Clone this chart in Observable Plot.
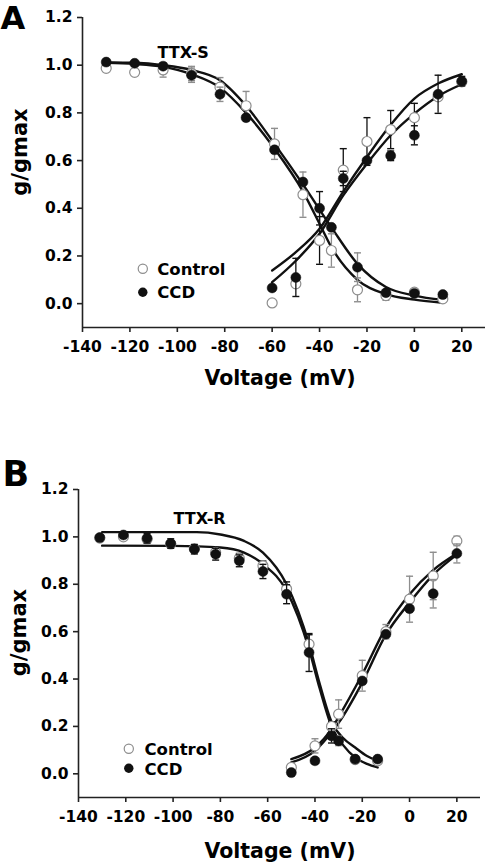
<!DOCTYPE html>
<html><head><meta charset="utf-8">
<script src="https://cdn.jsdelivr.net/npm/d3@7"></script>
<script src="https://cdn.jsdelivr.net/npm/@observablehq/plot@0.6"></script>
<style>
body{margin:0;background:#fff;}
#wrap{position:relative;width:486px;height:865px;overflow:hidden;}
#wrap svg{position:absolute;left:0;}
</style></head><body><div id="wrap"></div>
<script>
const FONT = "DejaVu Sans";
const xTicks = [-140, -120, -100, -80, -60, -40, -20, 0, 20];
const yTicks = [0, 0.2, 0.4, 0.6, 0.8, 1.0, 1.2];
const xLabel = "Voltage (mV)";
const yLabel = "g/gmax";
const legendLabels = ["Control", "CCD"];

// ---------- Panel A (TTX-S) ----------
const inactV_A      = [-130, -118, -106, -94, -82, -71, -59, -47, -35, -24, -12, 0, 12];
const inactCtrl_A   = [0.987, 0.97, 0.98, 0.965, 0.908, 0.83, 0.67, 0.457, 0.223, 0.058, 0.034, 0.048, 0.02];
const inactCtrlE_A  = [0.01, 0.01, 0.03, 0.03, 0.04, 0.06, 0.065, 0.095, 0.07, 0.05, 0.02, 0.01, 0.01];
const inactCCD_A    = [1.013, 1.008, 0.996, 0.958, 0.878, 0.78, 0.645, 0.51, 0.32, 0.153, 0.046, 0.043, 0.038];
const inactCCDE_A   = [0, 0, 0, 0.03, 0.03, 0, 0, 0, 0, 0.06, 0, 0, 0];
const actV_A        = [-60, -50, -40, -30, -20, -10, 0, 10, 20];
const actCtrl_A     = [0.003, 0.083, 0.265, 0.56, 0.68, 0.73, 0.78, 0.867, 0.93];
const actCtrlE_A    = [0, 0, 0.1, 0.09, 0.1, 0.08, 0.06, 0, 0];
const actCCD_A      = [0.066, 0.11, 0.40, 0.525, 0.60, 0.62, 0.706, 0.878, 0.933];
const actCCDE_A     = [0, 0.08, 0.07, 0.03, 0, 0.02, 0.04, 0.08, 0.02];
// fitted curves
const fitInact1V_A  = [-130, -118, -106, -94, -82, -71, -59, -47, -35, -24, -12, 0, 12];
const fitInact1_A   = [1.012, 1.01, 1.0, 0.98, 0.937, 0.83, 0.67, 0.50, 0.32, 0.167, 0.07, 0.034, 0.016];
const fitInact2V_A  = [-130, -118, -106, -94, -82, -71, -59, -47, -40, -35, -24, -12, 0, 12];
const fitInact2_A   = [1.01, 1.005, 0.993, 0.962, 0.906, 0.80, 0.65, 0.47, 0.335, 0.237, 0.10, 0.04, 0.017, 0.004];
const fitActV_A     = [-60, -50, -40, -30, -20, -10, 0, 10, 20];
const fitAct1_A     = [0.139, 0.216, 0.314, 0.47, 0.615, 0.75, 0.86, 0.923, 0.962];
const fitAct2_A     = [0.09, 0.18, 0.293, 0.454, 0.587, 0.706, 0.797, 0.87, 0.92];

// ---------- Panel B (TTX-R) ----------
const inactV_B      = [-131, -121, -111, -101, -91, -82, -72, -62, -52, -42.5, -33, -23, -13.5];
const inactCtrl_B   = [0.995, 1.0, 0.99, 0.97, 0.95, 0.935, 0.91, 0.878, 0.78, 0.547, 0.20, 0.06, 0.055];
const inactCtrlE_B  = [0, 0, 0, 0, 0.01, 0.02, 0.02, 0.02, 0.03, 0.04, 0.02, 0, 0];
const inactCCD_B    = [0.997, 1.008, 0.994, 0.972, 0.948, 0.927, 0.899, 0.854, 0.758, 0.512, 0.16, 0.062, 0.062];
const inactCCDE_B   = [0.01, 0.01, 0.02, 0.02, 0.02, 0.025, 0.025, 0.03, 0.04, 0.08, 0.03, 0, 0];
const actV_B        = [-50, -40, -30, -20, -10, 0, 10, 20];
const actCtrl_B     = [0.027, 0.118, 0.252, 0.414, 0.60, 0.737, 0.835, 0.983];
const actCtrlE_B    = [0.01, 0.03, 0.06, 0.065, 0.03, 0.097, 0.1, 0.02];
const actCCD_B      = [0.005, 0.055, 0.139, 0.392, 0.589, 0.697, 0.76, 0.93];
const actCCDE_B     = [0, 0, 0.02, 0, 0, 0, 0.06, 0.04];
const fitInact1V_B  = [-130, -110, -90, -80, -70, -62, -52, -42.5, -38, -33, -28, -23, -18, -13.5];
const fitInact1_B   = [1.02, 1.02, 1.02, 1.01, 0.983, 0.934, 0.80, 0.547, 0.38, 0.22, 0.15, 0.111, 0.075, 0.055];
const fitInact2V_B  = [-130, -100, -80, -70, -62, -52, -42.5, -38, -33, -28, -23, -18, -13.5];
const fitInact2_B   = [0.963, 0.962, 0.955, 0.934, 0.885, 0.772, 0.526, 0.36, 0.20, 0.12, 0.069, 0.042, 0.027];
const fitActV_B     = [-50, -40, -33, -30, -20, -10, 0, 10, 20];
const fitAct1_B     = [0.062, 0.111, 0.19, 0.24, 0.42, 0.617, 0.758, 0.86, 0.93];
const fitAct2_B     = [0.048, 0.097, 0.175, 0.215, 0.385, 0.587, 0.723, 0.84, 0.925];

const GRAY = "#8e8e8e";
const BLACK = "#111";

const zip = (xs, ys, es) => xs.map((x, i) => ({x, y: ys[i], e: es ? es[i] : 0}));
const capSymbol = {draw(ctx, size) { const r = Math.sqrt(size / Math.PI); ctx.moveTo(-r, 0); ctx.lineTo(r, 0); }};

function errMarks(data, color) {
  const d = data.filter(p => p.e > 0);
  const caps = d.flatMap(p => [{x: p.x, y: p.y - p.e}, {x: p.x, y: p.y + p.e}]);
  return [
    Plot.ruleX(d, {x: "x", y1: p => p.y - p.e, y2: p => p.y + p.e, stroke: color, strokeWidth: 1.3}),
    Plot.dot(caps, {x: "x", y: "y", symbol: capSymbol, r: 3.5, stroke: color, fill: "none", strokeWidth: 1.4})
  ];
}

function panel(p) {
  const ctrl = [...zip(p.inactV, p.inactCtrl, p.inactCtrlE), ...zip(p.actV, p.actCtrl, p.actCtrlE)];
  const ccd = [...zip(p.inactV, p.inactCCD, p.inactCCDE), ...zip(p.actV, p.actCCD, p.actCCDE)];
  const fits = [
    zip(p.fi1V, p.fi1), zip(p.fi2V, p.fi2), zip(p.faV, p.fa1), zip(p.faV, p.fa2)
  ];
  const m = p.margins;
  return Plot.plot({
    width: 486, height: p.height,
    marginLeft: m[0], marginRight: m[1], marginTop: m[2], marginBottom: m[3],
    x: {domain: [-140, 30]},
    y: {domain: [-0.1, 1.2]},
    style: {fontFamily: FONT, fontWeight: "bold", color: "#000", background: "transparent", overflow: "visible"},
    marks: [
      Plot.ruleX([-140], {stroke: "#222", strokeWidth: 1.6}),
      Plot.ruleY([-0.1], {stroke: "#222", strokeWidth: 1.6}),
      Plot.axisX({ticks: xTicks, tickSize: 5, tickPadding: 8, fontSize: 15.5, fontWeight: "bold", stroke: "#222", strokeWidth: 1.6, label: null, tickFormat: d => d3.format("d")(d).replace("−", "-")}),
      Plot.axisY({ticks: yTicks, tickSize: 5, tickPadding: 5, fontSize: 15.5, fontWeight: "bold", stroke: "#222", strokeWidth: 1.6, label: null, tickFormat: d3.format(".1f")}),
      ...fits.map(f => Plot.line(f, {x: "x", y: "y", curve: "monotone-x", stroke: BLACK, strokeWidth: 2.4})),
      ...errMarks(zip(p.inactV, p.inactCtrl, p.inactCtrlE), p.inactErrColor),
      ...errMarks(zip(p.actV, p.actCtrl, p.actCtrlE), p.actErrColor),
      Plot.dot(ctrl, {x: "x", y: "y", r: 5, stroke: GRAY, fill: "white", strokeWidth: 1.2}),
      ...errMarks(zip(p.inactV, p.inactCCD, p.inactCCDE), p.inactErrColor),
      ...errMarks(zip(p.actV, p.actCCD, p.actCCDE), p.actErrColor),
      Plot.dot(ccd, {x: "x", y: "y", r: 5, fill: BLACK, stroke: BLACK, strokeWidth: 0.5}),
      // panel letter
      Plot.text([p.letter], {frameAnchor: "top-left", textAnchor: "start", lineAnchor: "top", fontSize: p.letterSize, fontWeight: "bold", dx: p.letterPos[0], dy: p.letterPos[1]}),
      // condition label
      Plot.text([p.title], {frameAnchor: "top-left", textAnchor: "start", lineAnchor: "middle", fontSize: 16, fontWeight: "bold", dx: p.titlePos[0], dy: p.titlePos[1]}),
      // axis titles
      Plot.text([xLabel], {frameAnchor: "bottom", textAnchor: "middle", lineAnchor: "middle", fontSize: 20.5, fontWeight: "bold", dx: p.xLabelPos[0], dy: p.xLabelPos[1]}),
      Plot.text([yLabel], {frameAnchor: "left", textAnchor: "middle", lineAnchor: "middle", rotate: -90, fontSize: 21, fontWeight: "bold", dx: p.yLabelPos[0], dy: p.yLabelPos[1]}),
      // legend
      Plot.dot([legendLabels[0]], {frameAnchor: "top-left", r: 4.6, stroke: GRAY, fill: "white", strokeWidth: 1.2, dx: p.legend[0], dy: p.legend[1]}),
      Plot.dot([legendLabels[1]], {frameAnchor: "top-left", r: 4.7, fill: BLACK, dx: p.legend[0], dy: p.legend[2]}),
      Plot.text([legendLabels[0]], {frameAnchor: "top-left", textAnchor: "start", lineAnchor: "middle", fontSize: 16.5, fontWeight: "bold", dx: p.legend[3], dy: p.legend[4]}),
      Plot.text([legendLabels[1]], {frameAnchor: "top-left", textAnchor: "start", lineAnchor: "middle", fontSize: 16.5, fontWeight: "bold", dx: p.legend[3], dy: p.legend[5]})
    ]
  });
}

const wrap = document.getElementById("wrap");

const svgA = panel({
  height: 430, margins: [82, 1, 17, 103],
  inactV: inactV_A, inactCtrl: inactCtrl_A, inactCtrlE: inactCtrlE_A, inactCCD: inactCCD_A, inactCCDE: inactCCDE_A,
  actV: actV_A, actCtrl: actCtrl_A, actCtrlE: actCtrlE_A, actCCD: actCCD_A, actCCDE: actCCDE_A,
  fi1V: fitInact1V_A, fi1: fitInact1_A, fi2V: fitInact2V_A, fi2: fitInact2_A, faV: fitActV_A, fa1: fitAct1_A, fa2: fitAct2_A,
  inactErrColor: GRAY, actErrColor: BLACK,
  letter: "A", letterSize: 32, letterPos: [-82, -11.7],
  title: "TTX-S", titlePos: [75, 34.9],
  xLabelPos: [-4, 51.4], yLabelPos: [-62.7, -20.5],
  legend: [60.3, 251.3, 274.7, 74.7, 252.7, 275]
});
svgA.style.top = "0px";
wrap.appendChild(svgA);

const svgB = panel({
  height: 435, margins: [78, 6, 59, 68],
  inactV: inactV_B, inactCtrl: inactCtrl_B, inactCtrlE: inactCtrlE_B, inactCCD: inactCCD_B, inactCCDE: inactCCDE_B,
  actV: actV_B, actCtrl: actCtrl_B, actCtrlE: actCtrlE_B, actCCD: actCCD_B, actCCDE: actCCDE_B,
  fi1V: fitInact1V_B, fi1: fitInact1_B, fi2V: fitInact2V_B, fi2: fitInact2_B, faV: fitActV_B, fa1: fitAct1_B, fa2: fitAct2_B,
  inactErrColor: BLACK, actErrColor: GRAY,
  letter: "B", letterSize: 35, letterPos: [-76, -28.85],
  title: "TTX-R", titlePos: [95, 28.9],
  xLabelPos: [0.5, 54.4], yLabelPos: [-59.7, -11],
  legend: [50.3, 259.3, 278.7, 66, 260.7, 280]
});
svgB.style.top = "430px";
wrap.appendChild(svgB);
</script>
</body></html>
